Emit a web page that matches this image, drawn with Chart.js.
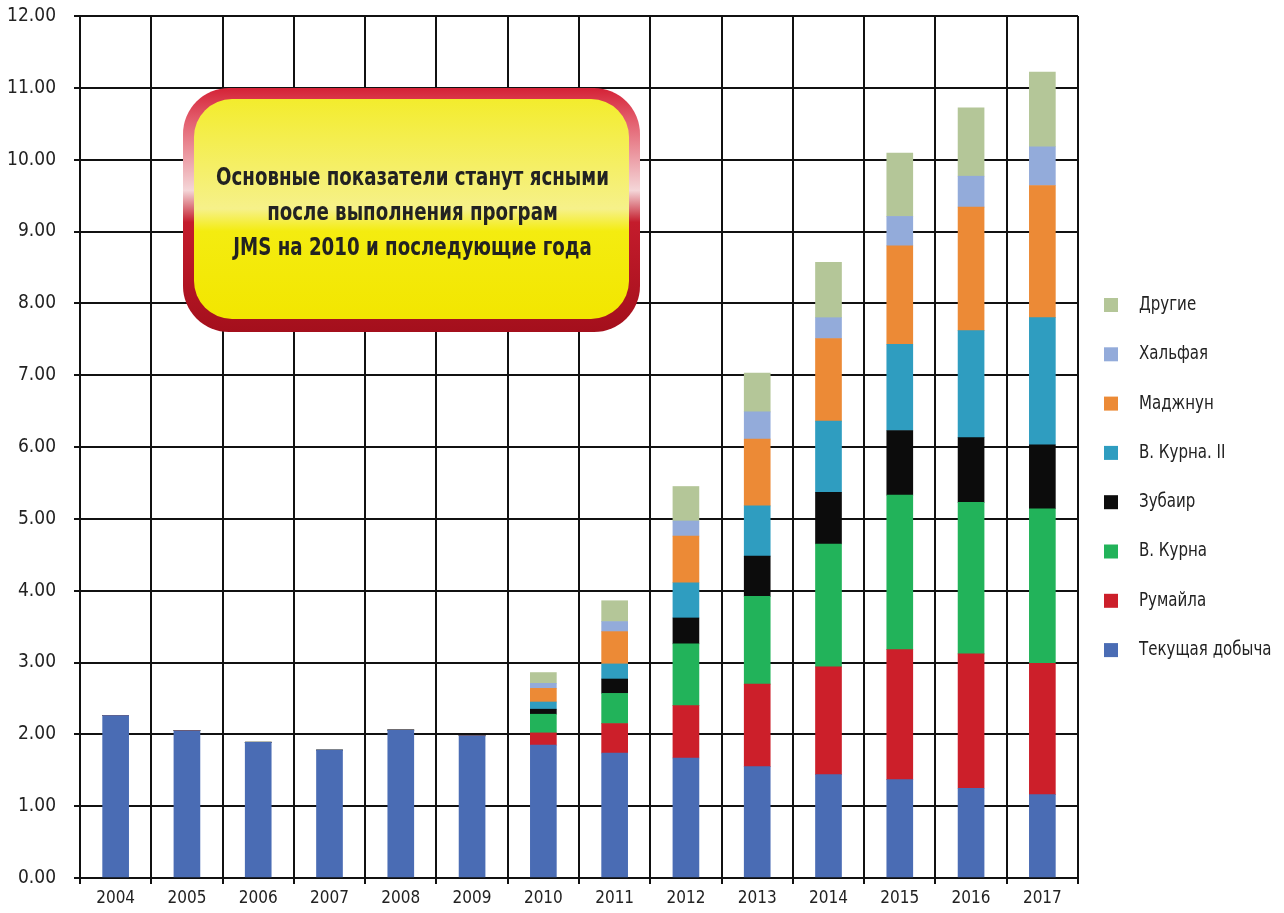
<!DOCTYPE html>
<html>
<head>
<meta charset="utf-8">
<script src="https://cdn.jsdelivr.net/npm/chart.js@4"></script>
<style>
    html, body { margin: 0; padding: 0; background: #fff; }
    #wrap { width: 1284px; height: 913px; }
</style>
</head>
<body>
<div id="wrap"><canvas id="oilChart"></canvas></div>
<script>
const years = ['2004', '2005', '2006', '2007', '2008', '2009', '2010', '2011', '2012', '2013', '2014', '2015', '2016', '2017'];

// segments, bottom to top (млн баррелей в сутки)
const tekushaya = [2.26, 2.05, 1.89, 1.78, 2.06, 1.98, 1.85, 1.74, 1.67, 1.55, 1.44, 1.37, 1.25, 1.16];
const rumaila   = [0, 0, 0, 0, 0, 0, 0.17, 0.41, 0.73, 1.15, 1.50, 1.81, 1.87, 1.83];
const vKurna    = [0, 0, 0, 0, 0, 0, 0.26, 0.42, 0.86, 1.22, 1.71, 2.15, 2.11, 2.15];
const zubair    = [0, 0, 0, 0, 0, 0, 0.07, 0.20, 0.36, 0.56, 0.72, 0.90, 0.90, 0.89];
const vKurna2   = [0, 0, 0, 0, 0, 0, 0.10, 0.21, 0.49, 0.70, 0.99, 1.20, 1.49, 1.77];
const madzhnun  = [0, 0, 0, 0, 0, 0, 0.19, 0.45, 0.65, 0.93, 1.15, 1.37, 1.72, 1.84];
const khalfaya  = [0, 0, 0, 0, 0, 0, 0.07, 0.14, 0.21, 0.38, 0.29, 0.41, 0.43, 0.54];
const drugie    = [0, 0, 0, 0, 0, 0, 0.15, 0.29, 0.48, 0.54, 0.77, 0.88, 0.95, 1.04];

const noteLines = [
    'Основные показатели станут ясными',
    'после выполнения програм',
    'JMS на 2010 и последующие года'
];

const FONT = '"Liberation Sans Narrow", "DejaVu Sans Condensed", "Liberation Sans", sans-serif';

function series(label, data, color) {
    return {
        label: label,
        data: data,
        backgroundColor: color,
        borderWidth: 0,
        barThickness: 26,
        stack: 's'
    };
}

// text squeezed horizontally, the original uses a condensed face
function narrowText(ctx, text, x, y, sx) {
    ctx.save();
    ctx.translate(x, y);
    ctx.scale(sx, 1);
    ctx.fillText(text, 0, 0);
    ctx.restore();
}

// yellow callout box, drawn over the grid
const noteBox = {
    id: 'noteBox',
    afterDatasetsDraw(chart) {
        const ctx = chart.ctx;
        const x = 183, y = 88, w = 457, h = 244;

        ctx.save();
        let g = ctx.createLinearGradient(0, y, 0, y + h);
        g.addColorStop(0, '#d42236');
        g.addColorStop(0.12, '#e25868');
        g.addColorStop(0.42, '#f4d6d8');
        g.addColorStop(0.55, '#c41c2c');
        g.addColorStop(1, '#a40f1c');
        ctx.fillStyle = g;
        ctx.beginPath();
        ctx.roundRect(x, y, w, h, 46);
        ctx.fill();

        g = ctx.createLinearGradient(0, y + 10, 0, y + h - 12);
        g.addColorStop(0, '#f3ec2c');
        g.addColorStop(0.5, '#f6f18a');
        g.addColorStop(0.6, '#f4ec10');
        g.addColorStop(1, '#f2e600');
        ctx.fillStyle = g;
        ctx.beginPath();
        ctx.roundRect(x + 11, y + 11, w - 22, h - 24, 38);
        ctx.fill();

        ctx.fillStyle = '#222';
        ctx.font = 'bold 24px ' + FONT;
        ctx.textAlign = 'center';
        ctx.textBaseline = 'middle';
        const sx = 393 / ctx.measureText(noteLines[0]).width;
        noteLines.forEach((line, i) => {
            narrowText(ctx, line, x + w / 2 + 1, 179 + i * 35, sx);
        });
        ctx.restore();
    }
};

// legend on the right, top item = top segment
const sideLegend = {
    id: 'sideLegend',
    afterDraw(chart) {
        const ctx = chart.ctx;
        const sets = chart.data.datasets.slice().reverse();
        ctx.save();
        ctx.font = '19px ' + FONT;
        ctx.textBaseline = 'middle';
        ctx.textAlign = 'left';
        sets.forEach((ds, i) => {
            const cy = 305 + i * 49.3;
            ctx.fillStyle = ds.backgroundColor;
            ctx.fillRect(1104, cy - 7, 14, 14);
            ctx.fillStyle = '#222';
            narrowText(ctx, ds.label, 1139, cy, 0.88);
        });
        ctx.restore();
    }
};

window.onload = () => {
    const ctx = document.getElementById('oilChart').getContext('2d');

    new Chart(ctx, {
        type: 'bar',
        data: {
            labels: years,
            datasets: [
                series('Текущая добыча', tekushaya, '#4a6cb4'),
                series('Румайла', rumaila, '#cc1f2a'),
                series('В. Курна', vKurna, '#22b35a'),
                series('Зубаир', zubair, '#0c0c0c'),
                series('В. Курна. II', vKurna2, '#2f9dc0'),
                series('Маджнун', madzhnun, '#ec8a36'),
                series('Хальфая', khalfaya, '#93abda'),
                series('Другие', drugie, '#b4c698')
            ]
        },
        options: {
            responsive: true,
            maintainAspectRatio: false,
            animation: false,
            layout: {
                padding: { left: 0, right: 206, top: 16, bottom: 0 }
            },
            plugins: {
                legend: { display: false },
                tooltip: { enabled: false }
            },
            scales: {
                x: {
                    stacked: true,
                    grid: {
                        offset: true,
                        color: '#111',
                        lineWidth: 2,
                        tickLength: 6
                    },
                    border: { color: '#111', width: 2 },
                    ticks: {
                        color: '#222',
                        padding: 4,
                        font: { family: FONT, size: 17 }
                    },
                    afterFit(scale) { scale.height = 35; }
                },
                y: {
                    stacked: true,
                    min: 0,
                    max: 12,
                    grid: {
                        color: '#111',
                        lineWidth: 2,
                        tickLength: 6
                    },
                    border: { color: '#111', width: 2 },
                    ticks: {
                        stepSize: 1,
                        color: '#222',
                        padding: 18,
                        font: { family: FONT, size: 19 },
                        callback: v => v.toFixed(2)
                    },
                    afterFit(scale) {
                        scale.width = 80;
                        scale.paddingTop = 0;
                        scale.paddingBottom = 0;
                    }
                }
            }
        },
        plugins: [noteBox, sideLegend]
    });
};
</script>
</body>
</html>
